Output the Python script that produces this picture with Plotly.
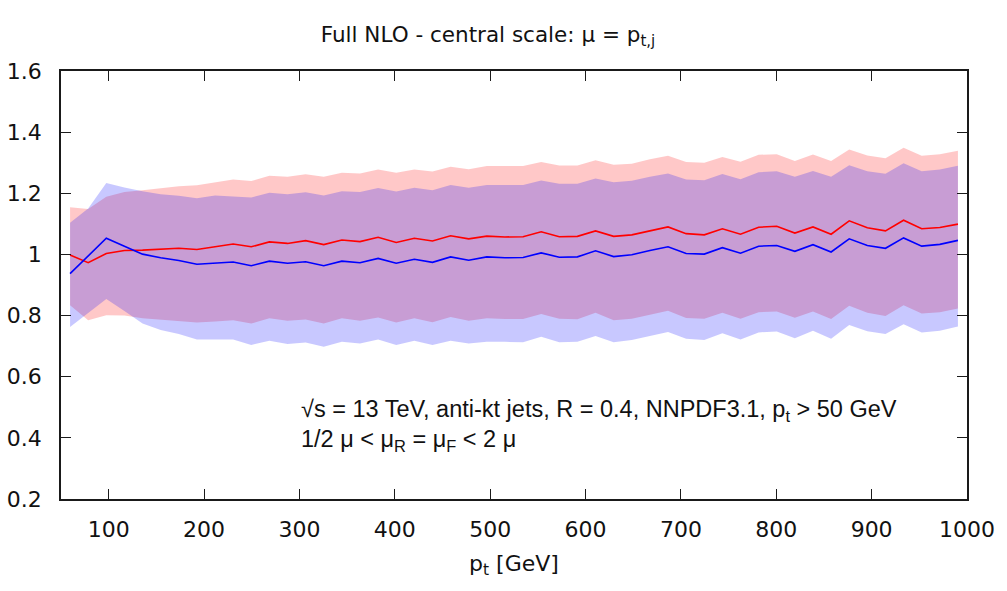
import numpy as np
import plotly.graph_objects as go

# bin centres (GeV)
pt = [59.5 + 19 * i for i in range(50)]

red_central = [0.998, 0.973, 1.003, 1.013, 1.014, 1.017, 1.020, 1.016, 1.025, 1.034,
               1.025, 1.041, 1.036, 1.045, 1.032, 1.047, 1.042, 1.056, 1.039, 1.053,
               1.044, 1.061, 1.051, 1.060, 1.057, 1.058, 1.074, 1.058, 1.059, 1.077,
               1.059, 1.064, 1.077, 1.090, 1.068, 1.064, 1.084, 1.066, 1.089, 1.092,
               1.070, 1.090, 1.066, 1.110, 1.087, 1.077, 1.112, 1.084, 1.088, 1.099]
red_upper = [1.154, 1.149, 1.189, 1.204, 1.210, 1.217, 1.223, 1.226, 1.235, 1.245,
             1.240, 1.257, 1.254, 1.262, 1.254, 1.267, 1.265, 1.278, 1.267, 1.278,
             1.271, 1.287, 1.279, 1.289, 1.289, 1.289, 1.302, 1.291, 1.291, 1.308,
             1.293, 1.297, 1.311, 1.323, 1.302, 1.300, 1.319, 1.303, 1.326, 1.328,
             1.306, 1.327, 1.306, 1.343, 1.324, 1.315, 1.349, 1.323, 1.328, 1.339]
red_lower = [0.834, 0.785, 0.801, 0.800, 0.791, 0.787, 0.783, 0.777, 0.781, 0.785,
             0.774, 0.791, 0.783, 0.787, 0.774, 0.791, 0.783, 0.794, 0.777, 0.791,
             0.778, 0.795, 0.783, 0.791, 0.789, 0.789, 0.805, 0.790, 0.788, 0.809,
             0.785, 0.790, 0.803, 0.816, 0.792, 0.790, 0.809, 0.790, 0.811, 0.813,
             0.793, 0.813, 0.789, 0.832, 0.809, 0.799, 0.834, 0.807, 0.811, 0.823]

blue_central = [0.937, 0.995, 1.053, 1.027, 1.001, 0.989, 0.980, 0.968, 0.972, 0.975,
                0.963, 0.978, 0.971, 0.976, 0.963, 0.978, 0.973, 0.987, 0.971, 0.984,
                0.974, 0.992, 0.981, 0.992, 0.989, 0.990, 1.005, 0.991, 0.992, 1.012,
                0.993, 0.999, 1.013, 1.025, 1.003, 1.001, 1.022, 1.004, 1.027, 1.029,
                1.010, 1.032, 1.008, 1.051, 1.029, 1.020, 1.054, 1.027, 1.033, 1.046]
blue_upper = [1.104, 1.150, 1.234, 1.219, 1.207, 1.197, 1.192, 1.184, 1.193, 1.190,
              1.186, 1.202, 1.197, 1.203, 1.193, 1.207, 1.204, 1.217, 1.206, 1.218,
              1.210, 1.227, 1.218, 1.227, 1.226, 1.227, 1.242, 1.231, 1.231, 1.248,
              1.236, 1.241, 1.254, 1.265, 1.245, 1.243, 1.263, 1.246, 1.269, 1.272,
              1.254, 1.273, 1.254, 1.292, 1.272, 1.264, 1.298, 1.272, 1.278, 1.290]
blue_lower = [0.763, 0.810, 0.854, 0.815, 0.774, 0.753, 0.740, 0.722, 0.722, 0.722,
              0.704, 0.718, 0.707, 0.712, 0.698, 0.714, 0.709, 0.722, 0.704, 0.718,
              0.704, 0.718, 0.709, 0.714, 0.714, 0.713, 0.731, 0.713, 0.714, 0.733,
              0.713, 0.720, 0.733, 0.746, 0.724, 0.720, 0.742, 0.722, 0.745, 0.748,
              0.726, 0.750, 0.724, 0.769, 0.749, 0.740, 0.772, 0.745, 0.750, 0.764]

x_ticks = [100, 200, 300, 400, 500, 600, 700, 800, 900, 1000]
y_ticks = [0.2, 0.4, 0.6, 0.8, 1.0, 1.2, 1.4, 1.6]
y_ticklabels = ["0.2", "0.4", "0.6", "0.8", "1", "1.2", "1.4", "1.6"]

fig = go.Figure()

def band(lower, upper, color):
    fig.add_trace(go.Scatter(x=pt, y=lower, mode="lines", line=dict(width=0),
                             showlegend=False, hoverinfo="skip"))
    fig.add_trace(go.Scatter(x=pt, y=upper, mode="lines", line=dict(width=0),
                             fill="tonexty", fillcolor=color,
                             showlegend=False, hoverinfo="skip"))

band(red_lower, red_upper, "rgba(255,0,0,0.216)")
band(blue_lower, blue_upper, "rgba(0,0,255,0.216)")

fig.add_trace(go.Scatter(x=pt, y=red_central, mode="lines",
                         line=dict(color="#ff0000", width=1.6), showlegend=False))
fig.add_trace(go.Scatter(x=pt, y=blue_central, mode="lines",
                         line=dict(color="#0000ff", width=1.6), showlegend=False))

axis_common = dict(showline=True, linecolor="#1a1a1a", linewidth=1.5, mirror="ticks",
                   ticks="inside", ticklen=10, tickwidth=1.2, tickcolor="#1a1a1a",
                   showgrid=False, zeroline=False, automargin=False,
                   tickfont=dict(family="DejaVu Sans", size=22, color="#111"))

fig.update_xaxes(range=[50, 1000], tickvals=x_ticks, ticklabelstandoff=10,
                 title=dict(text="p<sub>t</sub> [GeV]",
                            font=dict(family="DejaVu Sans", size=22, color="#111"),
                            standoff=14),
                 **axis_common)
fig.update_yaxes(range=[0.2, 1.6], tickvals=y_ticks, ticktext=y_ticklabels,
                 ticklabelstandoff=13, **axis_common)

fig.add_annotation(x=0.263, y=0.207, xref="paper", yref="paper", xanchor="left",
                   yanchor="middle", showarrow=False,
                   text="√s = 13 TeV, anti-kt jets, R = 0.4, NNPDF3.1, p<sub>t</sub> > 50 GeV",
                   font=dict(family="Liberation Sans", size=23.5, color="#111"))
fig.add_annotation(x=0.263, y=0.137, xref="paper", yref="paper", xanchor="left",
                   yanchor="middle", showarrow=False,
                   text="1/2 μ < μ<sub>R</sub> = μ<sub>F</sub> < 2 μ",
                   font=dict(family="Liberation Sans", size=23.5, color="#111"))

fig.update_layout(
    width=1007, height=591,
    margin=dict(l=61, r=40, t=71, b=92),
    paper_bgcolor="white", plot_bgcolor="white",
    title=dict(text="Full NLO - central scale: μ = p<sub>t,j</sub>",
               x=488 / 1007, xref="container", xanchor="center",
               y=1 - 34 / 591, yanchor="middle", yref="container",
               font=dict(family="DejaVu Sans", size=21.5, color="#111")),
)

fig.write_html("out.html")
